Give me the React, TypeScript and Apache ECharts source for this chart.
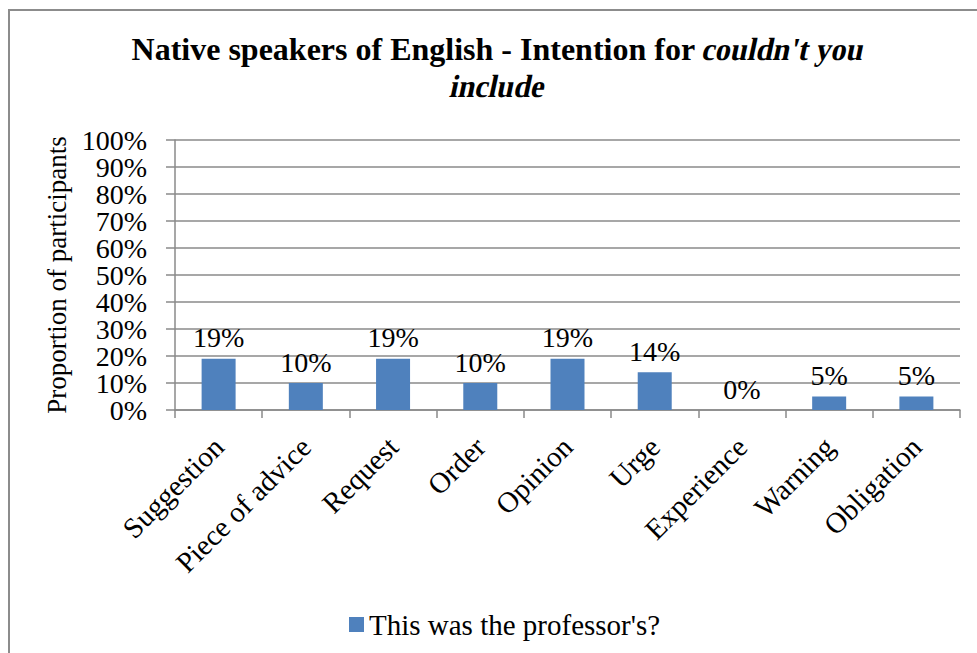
import React, { useEffect, useRef } from "react";
import * as echarts from "echarts";

const categories = ["Suggestion", "Piece of advice", "Request", "Order", "Opinion", "Urge", "Experience", "Warning", "Obligation"];
const values = [19, 10, 19, 10, 19, 14, 0, 5, 5];
const seriesName = "This was the professor's?";
const yTicks = { min: 0, max: 100, interval: 10 };
const yLabelsEven = [0, 20, 40, 60, 80, 100];
const yLabelsOdd = [10, 30, 50, 70, 90];
const titlePlain = "Native speakers of English - Intention for ";
const titleItalic1 = "couldn't you";
const titleItalic2 = "include";

const FONT = "Liberation Serif";
const GRID_COLOR = "#8a8a8a";
const TITLE_SIZE = 32;
const ITALIC_SKEW = -0.21;
const ITALIC_SCALE = 0.95;

function measure(text: string, font: string): number {
  const c = document.createElement("canvas").getContext("2d");
  if (!c) return text.length * 15;
  c.font = font;
  return c.measureText(text).width;
}

export default function App() {
  const ref = useRef<HTMLDivElement>(null);
  useEffect(() => {
    if (!ref.current) return;
    const chart = echarts.init(ref.current, undefined, { renderer: "svg" });
    const boldFont = `bold ${TITLE_SIZE}px 'Liberation Serif'`;
    const wA = measure(titlePlain, boldFont);
    const wB = measure(titleItalic1, boldFont) * ITALIC_SCALE;
    const cx = 498;
    const startX = cx - (wA + wB) / 2;
    const titleBold = { fontFamily: FONT, fontSize: TITLE_SIZE, fontWeight: "bold", fill: "#000", verticalAlign: "middle" };
    const yLabelBase = {
      formatter: "{value}%",
      margin: 28,
      fontFamily: FONT,
      fontSize: 28,
      color: "#000",
    };
    chart.setOption({
      animation: false,
      backgroundColor: "#ffffff",
      textStyle: { fontFamily: FONT, color: "#000" },
      graphic: [
        {
          type: "rect",
          shape: { x: 9, y: 10, width: 1100, height: 800 },
          style: { fill: "none", stroke: "#8c8c8c", lineWidth: 2 },
          silent: true,
          z: -10,
        },
        { type: "text", x: startX, y: 49, style: { ...titleBold, text: titlePlain, align: "left" } },
        {
          type: "text",
          x: startX + wA,
          y: 49,
          skewX: ITALIC_SKEW,
          scaleX: ITALIC_SCALE,
          style: { ...titleBold, text: titleItalic1, align: "left" },
        },
        {
          type: "text",
          x: cx,
          y: 86,
          skewX: ITALIC_SKEW,
          scaleX: ITALIC_SCALE,
          style: { ...titleBold, text: titleItalic2, align: "center" },
        },
      ],
      legend: {
        left: 344,
        top: 605,
        icon: "rect",
        itemWidth: 15,
        itemHeight: 15,
        itemGap: 10,
        textStyle: { fontFamily: FONT, fontSize: 29, color: "#000" },
        data: [seriesName],
      },
      grid: { left: 175, right: 17, top: 140, bottom: 243, containLabel: false },
      xAxis: {
        type: "category",
        data: categories,
        axisLine: { lineStyle: { color: GRID_COLOR, width: 1.5 } },
        axisTick: { show: true, length: 8, lineStyle: { color: GRID_COLOR, width: 1.5 } },
        axisLabel: {
          rotate: 45,
          margin: 32,
          interval: 0,
          fontFamily: FONT,
          fontSize: 29,
          color: "#000",
        },
      },
      yAxis: [
        {
          type: "value",
          position: "left",
          min: yTicks.min,
          max: yTicks.max,
          interval: yTicks.interval,
          name: "Proportion of participants",
          nameLocation: "middle",
          nameGap: 101,
          nameTextStyle: { fontFamily: FONT, fontSize: 27, color: "#000" },
          axisLine: { show: true, lineStyle: { color: GRID_COLOR, width: 1.5 } },
          axisTick: { show: true, length: 9, lineStyle: { color: GRID_COLOR, width: 1.5 } },
          splitLine: { show: true, lineStyle: { color: GRID_COLOR, width: 1.5 } },
          axisLabel: { ...yLabelBase, customValues: yLabelsEven, showMinLabel: true, showMaxLabel: true },
        },
        {
          type: "value",
          position: "left",
          offset: 0,
          min: yTicks.min,
          max: yTicks.max,
          interval: yTicks.interval,
          axisLine: { show: false },
          axisTick: { show: false },
          splitLine: { show: false },
          axisLabel: { ...yLabelBase, customValues: yLabelsOdd },
        },
      ],
      series: [
        {
          name: seriesName,
          type: "bar",
          data: values,
          yAxisIndex: 0,
          barWidth: 34,
          itemStyle: { color: "#4F81BD" },
          label: {
            show: true,
            position: "top",
            distance: 7,
            formatter: "{c}%",
            fontFamily: FONT,
            fontSize: 28,
            color: "#000",
          },
        },
      ],
    });
    return () => chart.dispose();
  }, []);
  return <div ref={ref} style={{ position: "fixed", left: 0, top: 0, width: 977, height: 653 }} />;
}
